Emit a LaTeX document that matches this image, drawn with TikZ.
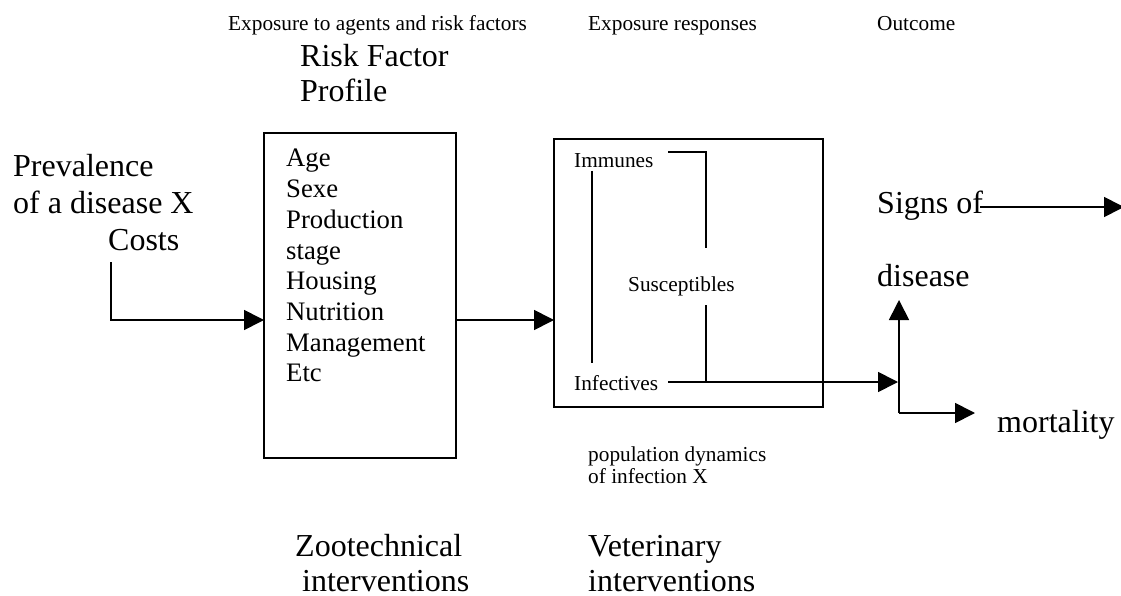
\documentclass[tikz,border=0pt]{standalone}
\usepackage{fontspec}
\setmainfont{Liberation Serif}
\usetikzlibrary{arrows.meta}
\begin{document}
\begin{tikzpicture}[x=1pt,y=-1pt,
  line/.style={line width=1.7pt},
  arr/.style={line width=1.7pt,-{Triangle[length=20pt,width=20pt]}},
  box/.style={draw,line width=1.7pt,rectangle,inner sep=0pt},
  big/.style={anchor=base west,inner sep=0pt,font=\fontsize{32}{36.7}\selectfont},
  mid/.style={anchor=base west,inner sep=0pt,font=\fontsize{26.7}{30.7}\selectfont},
  small/.style={anchor=base west,inner sep=0pt,font=\fontsize{21.3}{24}\selectfont}]
\useasboundingbox (0,0) rectangle (1121,596);

% column headings
\node[small] (h1) at (228,31) {Exposure to agents and risk factors};
\node[small] (h2) at (588,31) {Exposure responses};
\node[small] (h3) at (877,31) {Outcome};

% risk factor profile
\node[big] (rf1) at (300,67) {Risk Factor};
\node[big] (rf2) at (300,102) {Profile};
\node[box,minimum width=192pt,minimum height=325pt] (box1) at (360,295.5) {};
\node[mid] (f1) at (286,167) {Age};
\node[mid] (f2) at (286,197.7) {Sexe};
\node[mid] (f3) at (286,228.4) {Production};
\node[mid] (f4) at (286,259.1) {stage};
\node[mid] (f5) at (286,289.8) {Housing};
\node[mid] (f6) at (286,320.5) {Nutrition};
\node[mid] (f7) at (286,351.2) {Management};
\node[mid] (f8) at (286,381.9) {Etc};

% input
\node[big] (p1) at (13,177) {Prevalence};
\node[big] (p2) at (13,213.7) {of a disease X};
\node[big] (p3) at (108,250.4) {Costs};
\coordinate (cst) at (111,262);
\coordinate (b1in) at (264,320);
\draw[arr] (cst) |- (b1in);

% population dynamics box
\node[box,minimum width=269pt,minimum height=268pt] (box2) at (688.5,273) {};
\coordinate (b1out) at (456,320);
\coordinate (b2in) at (554,320);
\draw[arr] (b1out) -- (b2in);
\node[small] (imm) at (574,168) {Immunes};
\node[small] (sus) at (628,291) {Susceptibles};
\node[small] (inf) at (574,390) {Infectives};
\coordinate (l1a) at (592,171);
\coordinate (l1b) at (592,363);
\draw[line] (l1a) -- (l1b);
\coordinate (l2a) at (668,152);
\coordinate (l2b) at (706,248);
\draw[line] (l2a) -| (l2b);
\coordinate (l3a) at (706,305);
\coordinate (l3b) at (706,382);
\draw[line] (l3a) -- (l3b);
\coordinate (infout) at (668,382);
\coordinate (hub) at (898,382);
\draw[arr] (infout) -- (hub);

\node[small] (pd1) at (588,461) {population dynamics};
\node[small] (pd2) at (588,483) {of infection X};

% outcomes
\node[big] (sg1) at (877,213) {Signs of};
\node[big] (sg2) at (877,286) {disease};
\node[big] (mort) at (997,432) {mortality};
\coordinate (sgs) at (980,207);
\coordinate (sge) at (1124,207);
\draw[arr] (sgs) -- (sge);
\coordinate (corner) at (899,413);
\coordinate (up) at (899,300);
\coordinate (rt) at (975,413);
\draw[arr] (corner) -- (up);
\draw[arr] (corner) -- (rt);

% interventions
\node[big] (z1) at (295,556) {Zootechnical};
\node[big] (z2) at (302,591.5) {interventions};
\node[big] (v1) at (588,556) {Veterinary};
\node[big] (v2) at (588,591.5) {interventions};
\end{tikzpicture}
\end{document}
